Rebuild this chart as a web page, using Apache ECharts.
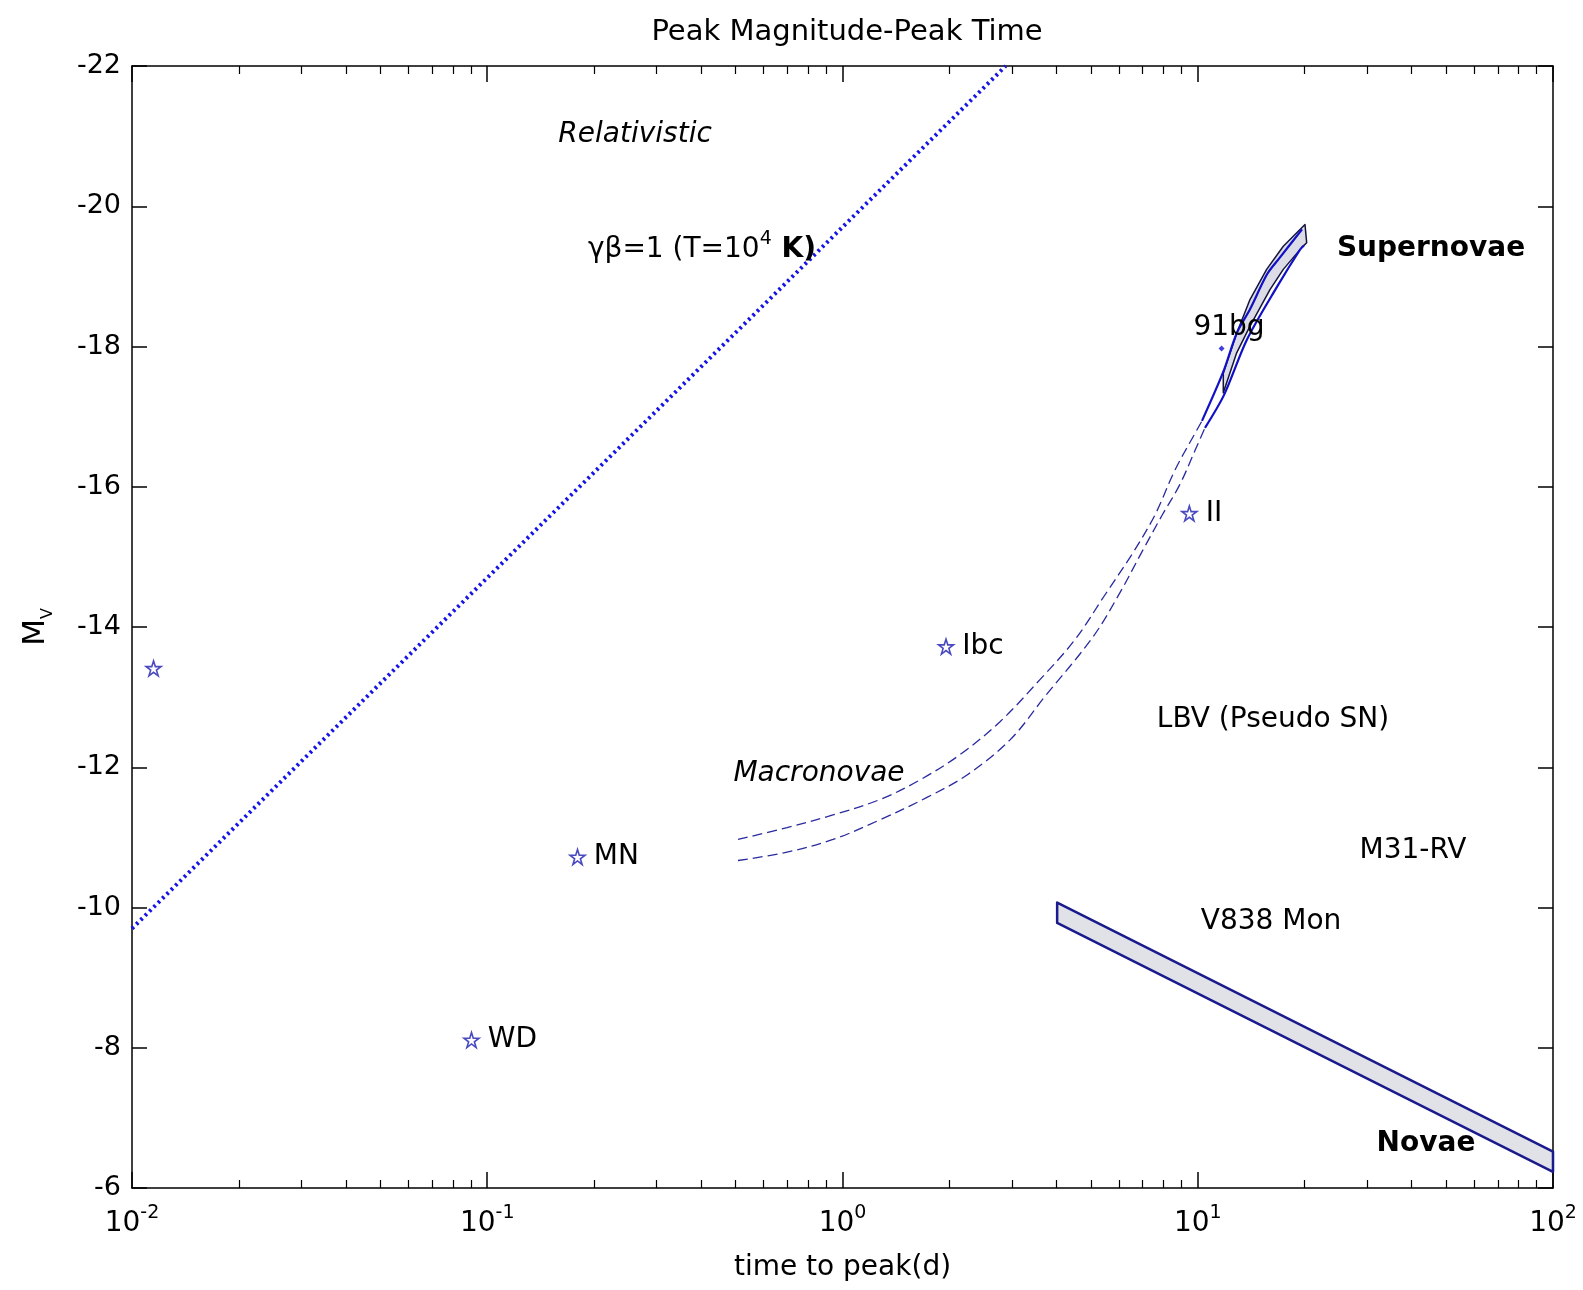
<!DOCTYPE html>
<html>
<head>
<meta charset="utf-8">
<title>Peak Magnitude-Peak Time</title>
<script src="https://cdn.jsdelivr.net/npm/echarts@6/dist/echarts.min.js"></script>
<style>
  html, body { margin: 0; padding: 0; background: #ffffff; }
  #chart { width: 1583px; height: 1290px; }
</style>
</head>
<body>
<div id="chart"></div>
<script>
// ---- axis ticks ----
const xMajorTicks = [0.01, 0.1, 1, 10, 100];
const xMinorTicks = [
  0.02, 0.03, 0.04, 0.05, 0.06, 0.07, 0.08, 0.09,
  0.2, 0.3, 0.4, 0.5, 0.6, 0.7, 0.8, 0.9,
  2, 3, 4, 5, 6, 7, 8, 9,
  20, 30, 40, 50, 60, 70, 80, 90
];
const yTicks = [-22, -20, -18, -16, -14, -12, -10, -8, -6];

// ---- relativistic limit (gamma*beta = 1, T = 1e4 K) ----
const relativisticLine = [[0.01, -9.7], [2.88, -22.0]];

// ---- macronova tracks: [time to peak (d), M_V] ----
const macronovaUpperDashed = [
  [0.508, -10.97], [0.698, -11.14], [0.940, -11.32], [1.275, -11.54],
  [1.653, -11.82], [2.142, -12.18], [2.776, -12.65], [3.596, -13.25],
  [4.513, -13.82], [5.483, -14.46], [6.571, -15.06], [7.581, -15.60],
  [8.630, -16.24], [9.696, -16.71], [10.28, -16.94]
];
const macronovaUpperSolid = [
  [10.28, -16.94], [11.78, -17.63], [12.90, -18.20], [14.03, -18.53],
  [15.67, -19.03], [17.04, -19.27], [19.66, -19.67]
];
const macronovaLowerDashed = [
  [0.508, -10.67], [0.698, -10.79], [0.940, -10.97], [1.275, -11.25],
  [1.729, -11.57], [2.242, -11.89], [2.962, -12.39], [3.715, -13.01],
  [5.072, -13.86], [6.040, -14.49], [7.012, -15.10], [7.950, -15.60],
  [8.900, -16.03], [9.850, -16.53], [10.48, -16.84]
];
const macronovaLowerSolid = [
  [10.48, -16.84], [11.86, -17.31], [13.76, -18.10], [16.71, -18.85],
  [19.40, -19.38], [19.90, -19.44]
];

// ---- shaded regions ----
const supernovaBand = [
  [11.80, -17.62], [12.87, -18.19], [14.03, -18.67], [15.63, -19.10],
  [17.41, -19.43], [20.04, -19.74], [20.26, -19.48], [19.61, -19.41],
  [17.41, -19.10], [15.97, -18.81], [14.03, -18.29], [12.87, -17.91],
  [11.80, -17.34]
];
const novaBand = [[4.02, -10.07], [100, -6.52], [100, -6.23], [4.02, -9.78]];

// ---- individual transients ----
const starPoints = [
  [0.0115, -13.41, ''],
  [0.0903, -8.11, 'WD'],
  [0.1795, -10.72, 'MN'],
  [1.956, -13.72, 'Ibc'],
  [9.47, -15.62, 'II']
];
const sn91bgPoint = [[11.67, -17.97]];

// ---- region names: [x, y, text, style] ----
const regionLabels = [
  [0.2607, -21.02, 'Relativistic', 'italic'],
  [0.4022, -19.43, '{t|γβ=1 (T=10}{s|4}{k| K)}', 'rich'],
  [45.36, -19.40, 'Supernovae', 'bold'],
  [12.25, -18.27, '91bg', 'normal'],
  [16.29, -12.68, 'LBV (Pseudo SN)', 'normal'],
  [0.8587, -11.91, 'Macronovae', 'italic'],
  [40.35, -10.81, 'M31-RV', 'normal'],
  [16.08, -9.80, 'V838 Mon', 'normal'],
  [43.91, -6.63, 'Novae', 'bold']
];

const FONT = 'DejaVu Sans';
const INK = '#000000';
const NAVY = '#1a1a8c';
const BLUE = '#1010c8';

function polygonSeries(points, fill, stroke, width, z) {
  return {
    type: 'custom',
    coordinateSystem: 'cartesian2d',
    xAxisIndex: 0,
    yAxisIndex: 0,
    data: [[1, -10]],
    silent: true,
    z: z,
    renderItem: function (params, api) {
      return {
        type: 'polygon',
        shape: { points: points.map(function (p) { return api.coord(p); }) },
        style: { fill: fill, stroke: stroke, lineWidth: width, lineJoin: 'round' }
      };
    }
  };
}

function lineSeries(data, color, width, type, z, smooth) {
  return {
    type: 'line',
    xAxisIndex: 0,
    yAxisIndex: 0,
    data: data,
    symbol: 'none',
    smooth: smooth || false,
    silent: true,
    z: z,
    lineStyle: { color: color, width: width, type: type, cap: 'butt' }
  };
}

function xLabelFormatter(v) {
  const e = Math.round(Math.log10(v));
  return '{b|10}{s|' + e + '}';
}

const xLabelRich = {
  b: { fontFamily: FONT, fontSize: 28, color: INK, lineHeight: 34, verticalAlign: 'bottom' },
  s: { fontFamily: FONT, fontSize: 19, color: INK, lineHeight: 34, verticalAlign: 'top' }
};

const baseX = {
  type: 'log',
  logBase: 10,
  min: 0.01,
  max: 100,
  gridIndex: 0,
  splitLine: { show: false },
  axisLine: { show: true, onZero: false, lineStyle: { color: INK, width: 1.5 } }
};

const STAR_PATH = 'path://M50,2 L61.2,36.5 L97.6,36.5 L68.2,57.9 L79.4,92.5 L50,71.1 L20.6,92.5 L31.8,57.9 L2.4,36.5 L38.8,36.5 Z';

const textBase = {
  fontFamily: FONT,
  fontSize: 28,
  color: INK,
  opacity: 1,
  textBorderWidth: 0,
  textBorderColor: 'transparent',
  textShadowBlur: 0
};

const option = {
  backgroundColor: '#ffffff',
  animation: false,
  title: {
    text: 'Peak Magnitude-Peak Time',
    left: 842,
    top: 13,
    textAlign: 'center',
    textStyle: { fontFamily: FONT, fontSize: 29, fontWeight: 'normal', color: INK }
  },
  grid: { left: 132, right: 30, top: 66, bottom: 102, containLabel: false },
  xAxis: [
    Object.assign({}, baseX, {
      position: 'bottom',
      name: 'time to peak(d)',
      nameLocation: 'middle',
      nameGap: 66,
      nameTextStyle: { fontFamily: FONT, fontSize: 28, color: INK },
      axisTick: { show: true, inside: true, length: 16, customValues: xMajorTicks, lineStyle: { color: INK, width: 1.5 } },
      axisLabel: { show: true, margin: 16, customValues: xMajorTicks, formatter: xLabelFormatter, rich: xLabelRich }
    }),
    Object.assign({}, baseX, {
      position: 'top',
      axisTick: { show: true, inside: true, length: 16, customValues: xMajorTicks, lineStyle: { color: INK, width: 1.5 } },
      axisLabel: { show: false }
    }),
    Object.assign({}, baseX, {
      position: 'bottom',
      axisLine: { show: false },
      axisTick: { show: true, inside: true, length: 8, customValues: xMinorTicks, lineStyle: { color: INK, width: 1.2 } },
      axisLabel: { show: false }
    }),
    Object.assign({}, baseX, {
      position: 'top',
      axisLine: { show: false },
      axisTick: { show: true, inside: true, length: 8, customValues: xMinorTicks, lineStyle: { color: INK, width: 1.2 } },
      axisLabel: { show: false }
    })
  ],
  yAxis: [
    {
      type: 'value',
      position: 'left',
      min: -22,
      max: -6,
      interval: 2,
      inverse: true,
      name: '{m|M}{v|V}',
      nameLocation: 'middle',
      nameRotate: 90,
      nameGap: 76,
      nameTextStyle: {
        rich: {
          m: { fontFamily: FONT, fontSize: 31, color: INK, lineHeight: 36, verticalAlign: 'top' },
          v: { fontFamily: FONT, fontSize: 16, color: INK, lineHeight: 36, verticalAlign: 'bottom' }
        }
      },
      splitLine: { show: false },
      axisLine: { show: true, onZero: false, lineStyle: { color: INK, width: 1.5 } },
      axisTick: { show: true, inside: true, length: 15, customValues: yTicks, lineStyle: { color: INK, width: 1.5 } },
      axisLabel: {
        show: true, margin: 11, customValues: yTicks,
        fontFamily: FONT, fontSize: 27, color: INK,
        formatter: function (v) { return String(v); }
      }
    },
    {
      type: 'value',
      position: 'right',
      min: -22,
      max: -6,
      interval: 2,
      inverse: true,
      splitLine: { show: false },
      axisLine: { show: true, onZero: false, lineStyle: { color: INK, width: 1.5 } },
      axisTick: { show: true, inside: true, length: 15, customValues: yTicks, lineStyle: { color: INK, width: 1.5 } },
      axisLabel: { show: false }
    }
  ],
  series: [
    polygonSeries(novaBand, '#e1e1e8', NAVY, 2.5, 2),
    polygonSeries(supernovaBand, '#dcdce6', '#14143c', 1.5, 2),
    lineSeries(relativisticLine, '#1414e6', 4, [2.5, 3.6], 3),
    lineSeries(macronovaUpperDashed, '#2a2aa0', 1.3, [10, 5], 3, 0.35),
    lineSeries(macronovaLowerDashed, '#2a2aa0', 1.3, [10, 5], 3, 0.35),
    lineSeries(macronovaUpperSolid, BLUE, 2.2, 'solid', 4, 0.3),
    lineSeries(macronovaLowerSolid, BLUE, 2.2, 'solid', 4, 0.3),
    {
      type: 'scatter',
      xAxisIndex: 0,
      yAxisIndex: 0,
      z: 5,
      silent: true,
      symbol: STAR_PATH,
      symbolSize: 15,
      itemStyle: { color: 'rgba(255,255,255,0)', borderColor: '#1c1cb0', borderWidth: 1.6 },
      data: starPoints.map(function (p) { return { value: [p[0], p[1]], name: p[2] }; }),
      label: Object.assign({
        show: true,
        position: 'right',
        distance: 8,
        formatter: '{b}'
      }, textBase)
    },
    {
      type: 'scatter',
      xAxisIndex: 0,
      yAxisIndex: 0,
      z: 5,
      silent: true,
      symbol: 'diamond',
      symbolSize: 6,
      itemStyle: { color: '#1010d0' },
      data: sn91bgPoint
    },
    {
      type: 'scatter',
      xAxisIndex: 0,
      yAxisIndex: 0,
      z: 6,
      silent: true,
      symbolSize: 0,
      itemStyle: { color: INK },
      data: regionLabels.map(function (r) {
        const style = r[3];
        return {
          value: [r[0], r[1]],
          name: r[2],
          label: {
            fontStyle: style === 'italic' ? 'italic' : 'normal',
            fontWeight: style === 'bold' ? 'bold' : 'normal'
          }
        };
      }),
      label: Object.assign({
        show: true,
        position: 'inside',
        formatter: '{b}',
        rich: {
          t: { fontFamily: FONT, fontSize: 28, color: INK, lineHeight: 34, verticalAlign: 'bottom' },
          s: { fontFamily: FONT, fontSize: 19, color: INK, lineHeight: 34, verticalAlign: 'top' },
          k: { fontFamily: FONT, fontSize: 28, fontWeight: 'bold', color: INK, lineHeight: 34, verticalAlign: 'bottom' }
        }
      }, textBase)
    }
  ]
};

const chart = echarts.init(document.getElementById('chart'), null, { renderer: 'canvas' });
chart.setOption(option);
</script>
</body>
</html>
